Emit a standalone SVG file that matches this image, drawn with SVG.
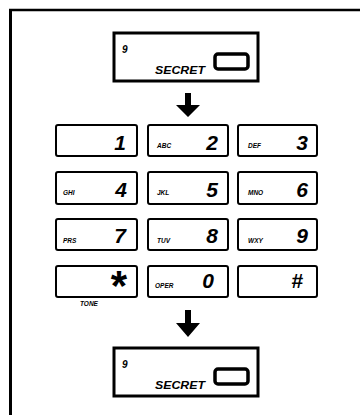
<svg xmlns="http://www.w3.org/2000/svg" width="360" height="415" viewBox="0 0 360 415">
<style>
.key{fill:#fff;stroke:#000;stroke-width:2}
.disp{fill:#fff;stroke:#000;stroke-width:3}
.btn{fill:#fff;stroke:#000;stroke-width:3.5}
.dig{font-family:"Liberation Sans",Arial,sans-serif;font-weight:bold;font-style:italic;font-size:21px;text-anchor:end;fill:#000}
.let{font-family:"Liberation Sans",Arial,sans-serif;font-weight:bold;font-style:italic;font-size:6.5px;fill:#000}
.sec{font-family:"Liberation Sans",Arial,sans-serif;font-weight:bold;font-style:italic;font-size:10.5px;fill:#000}
.nine{font-family:"Liberation Sans",Arial,sans-serif;font-weight:bold;font-style:italic;font-size:10px;fill:#000}
.arrow{fill:#000}
</style>
<defs>
<g id="display">
<rect class="disp" x="0" y="0" width="144" height="48"/>
<text class="nine" x="8" y="20">9</text>
<text class="sec" x="41" y="41" textLength="50" lengthAdjust="spacingAndGlyphs">SECRET</text>
<rect class="btn" x="101" y="21" width="33" height="15" rx="3"/>
</g>
</defs>
<g id="frame" fill="none" stroke="#000">
<line x1="9" y1="10" x2="360" y2="10" stroke-width="2.5"/>
<line x1="10.5" y1="9" x2="10.5" y2="415" stroke-width="3"/>
</g>
<g id="display-top"><use href="#display" x="114" y="33"/></g>
<g id="connectors">
<polygon class="arrow" points="185,93 191,93 191,105 200,105 188,117 176,105 185,105"/>
<polygon class="arrow" points="185,310 191,310 191,323 200,323 188,337 176,323 185,323"/>
</g>
<g id="key-1"><rect class="key" x="56" y="125" width="81" height="31" rx="2"/><text class="dig" x="126" y="150">1</text></g>
<g id="key-2"><rect class="key" x="148" y="125" width="80" height="31" rx="2"/><text class="let" x="157" y="148">ABC</text><text class="dig" x="218" y="150">2</text></g>
<g id="key-3"><rect class="key" x="238" y="125" width="79" height="31" rx="2"/><text class="let" x="248" y="148">DEF</text><text class="dig" x="308" y="150">3</text></g>
<g id="key-4"><rect class="key" x="56" y="172" width="81" height="32" rx="2"/><text class="let" x="63" y="195">GHI</text><text class="dig" x="127" y="197">4</text></g>
<g id="key-5"><rect class="key" x="148" y="172" width="80" height="32" rx="2"/><text class="let" x="157" y="195">JKL</text><text class="dig" x="218" y="197">5</text></g>
<g id="key-6"><rect class="key" x="238" y="172" width="79" height="32" rx="2"/><text class="let" x="248" y="195">MNO</text><text class="dig" x="308" y="197">6</text></g>
<g id="key-7"><rect class="key" x="56" y="219" width="81" height="31" rx="2"/><text class="let" x="63" y="243">PRS</text><text class="dig" x="126" y="243">7</text></g>
<g id="key-8"><rect class="key" x="148" y="219" width="80" height="31" rx="2"/><text class="let" x="157" y="243">TUV</text><text class="dig" x="218" y="243">8</text></g>
<g id="key-9"><rect class="key" x="238" y="219" width="79" height="31" rx="2"/><text class="let" x="248" y="243">WXY</text><text class="dig" x="308" y="243">9</text></g>
<g id="key-star"><rect class="key" x="56" y="266" width="81" height="31" rx="2"/><text x="127" y="300" font-family="Liberation Sans, Arial, sans-serif" font-weight="bold" font-size="42" text-anchor="end">*</text><text class="let" x="80" y="306">TONE</text></g>
<g id="key-0"><rect class="key" x="148" y="266" width="80" height="31" rx="2"/><text class="let" x="155" y="288">OPER</text><text class="dig" x="214" y="288" font-size="18">0</text></g>
<g id="key-hash"><rect class="key" x="238" y="266" width="79" height="31" rx="2"/><text class="dig" x="303" y="288" font-size="16">#</text></g>
<g id="display-bottom"><use href="#display" x="114" y="348"/></g>
</svg>
